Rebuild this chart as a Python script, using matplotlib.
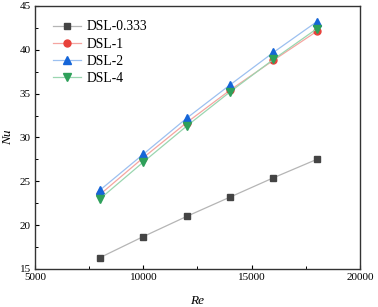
import numpy as np
import matplotlib.pyplot as plt
from matplotlib.ticker import MultipleLocator

plt.rcParams['font.family'] = ['Liberation Serif', 'DejaVu Serif']

re = [8000, 10000, 12000, 14000, 16000, 18000]
nu_0333 = [16.3, 18.7, 21.0, 23.2, 25.4, 27.5]
nu_1 = [23.5, 27.7, 31.7, 35.4, 38.8, 42.1]
nu_2 = [24.0, 28.1, 32.2, 36.0, 39.7, 43.2]
nu_4 = [23.0, 27.2, 31.3, 35.2, 38.9, 42.4]

names = ['DSL-0.333', 'DSL-1', 'DSL-2', 'DSL-4']
markers = ['s', 'o', '^', 'v']
msizes = [4.5, 5, 5.5, 5.5]
mcolors = ['#444444', '#e8413a', '#1565d8', '#2ea05a']
lcolors = ['#b5b5b5', '#f5a5a0', '#9cc0f0', '#9ad6b0']

fig = plt.figure(figsize=(3.78, 3.07), dpi=100)
ax = fig.add_axes([35/378, 1 - 269/307, 325/378, 263/307])

for y, n, m, ms, mc, lc in zip([nu_0333, nu_1, nu_2, nu_4], names, markers, msizes, mcolors, lcolors):
    ax.plot(re, y, color=lc, lw=0.9, marker=m, markersize=ms,
            markerfacecolor=mc, markeredgecolor=mc, label=n)

ax.set_xlim(5000, 20000)
ax.set_ylim(15, 45)
ax.xaxis.set_major_locator(MultipleLocator(5000))
ax.xaxis.set_minor_locator(MultipleLocator(2500))
ax.yaxis.set_major_locator(MultipleLocator(5))
ax.yaxis.set_minor_locator(MultipleLocator(2.5))
ax.tick_params(which='both', direction='in', top=False, right=False, labelsize=8)
ax.tick_params(which='major', length=3.2, width=0.8, pad=3)
ax.tick_params(which='minor', length=2, width=0.7)
for s in ax.spines.values():
    s.set_linewidth(1.0)
    s.set_color('#333333')

ax.set_xlabel('Re', style='italic', fontsize=9.5, labelpad=9)
ax.set_ylabel('Nu', style='italic', fontsize=9.5, labelpad=4)

ax.legend(loc='upper left', bbox_to_anchor=(0.055, 0.945), frameon=False,
          fontsize=9.8, handlelength=2.1, handletextpad=0.4,
          labelspacing=0.3, borderpad=0, borderaxespad=0)

fig.savefig('out.png', dpi=100)
